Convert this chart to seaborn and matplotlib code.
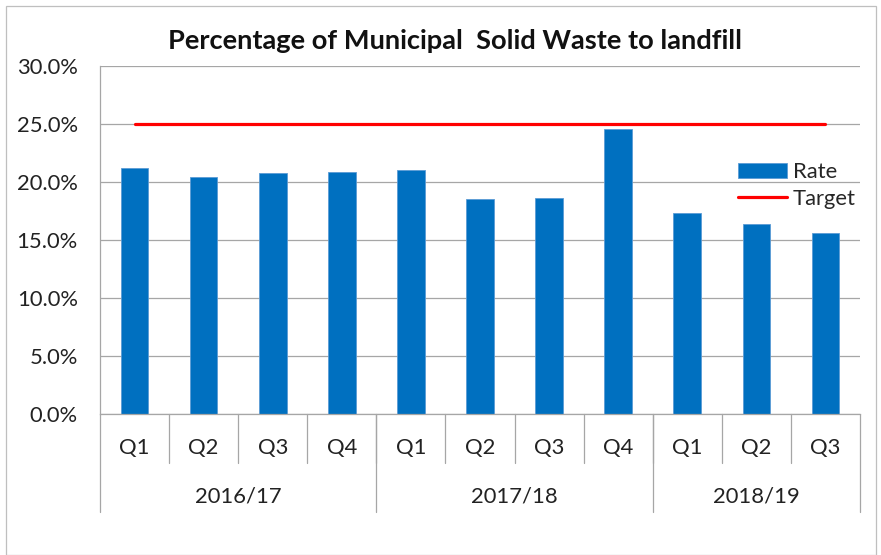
import numpy as np
import pandas as pd
import matplotlib.pyplot as plt
import matplotlib.transforms as mtransforms
from matplotlib.patches import Patch, Rectangle
from matplotlib.lines import Line2D
import seaborn as sns

# =========================================================
# DATA
# =========================================================
years = ["2016/17", "2017/18", "2018/19"]
quarters_per_year = [4, 4, 3]
quarters = ["Q1", "Q2", "Q3", "Q4", "Q1", "Q2", "Q3", "Q4", "Q1", "Q2", "Q3"]
rate = [21.2, 20.4, 20.8, 20.9, 21.0, 18.5, 18.6, 24.6, 17.3, 16.4, 15.6]
target = [25.0] * 11

period_year = [y for y, n in zip(years, quarters_per_year) for _ in range(n)]
df = pd.DataFrame({
    "period": [f"{y} {q}" for y, q in zip(period_year, quarters)],
    "quarter": quarters,
    "rate": rate,
    "target": target,
})

# =========================================================
# PLOT
# =========================================================
sns.set_style("white")
plt.rcParams["font.family"] = ["Lato", "DejaVu Sans"]

grey = "#A6A6A6"
txt = "#222222"
fs = 15.8
fig = plt.figure(figsize=(8.81, 5.55), dpi=100)
ax = fig.add_axes([100 / 881, 1 - 414 / 555, 760 / 881, 348 / 555])

sns.barplot(data=df, x="period", y="rate", color="#0070C0", width=0.4,
            saturation=1, edgecolor="#5B9BD5", linewidth=0.6, ax=ax)
x_pos = np.arange(len(df))
ax.plot(x_pos, df["target"], color="#FF0000", linewidth=2.3, zorder=3)

ax.set_xlim(-0.5, len(df) - 0.5)
ax.set_ylim(0, 30)
ax.set_yticks(np.arange(0, 30.1, 5))
ax.set_yticklabels([f"{v:.1f}%" for v in np.arange(0, 30.1, 5)], fontsize=fs, color=txt)
ax.yaxis.grid(True, color=grey, linewidth=0.9)
ax.set_axisbelow(True)
ax.tick_params(axis="y", length=5, color=grey, width=0.9, pad=11)
ax.tick_params(axis="x", length=4, direction="in", color=grey, width=0.8, labelbottom=False)
ax.set_xlabel("")
ax.set_ylabel("")
for s in ["top", "right"]:
    ax.spines[s].set_visible(False)
for s in ["left", "bottom"]:
    ax.spines[s].set_color(grey)
    ax.spines[s].set_linewidth(0.9)

# multi-level category axis
trans = mtransforms.blended_transform_factory(ax.transData, ax.transAxes)
for i, q in enumerate(df["quarter"]):
    ax.text(i, -0.098, q, transform=trans, ha="center", va="center",
            fontsize=fs, color=txt)
for i in range(1, len(df)):
    ax.plot([i - 0.5, i - 0.5], [0, -0.141], transform=trans, color=grey,
            linewidth=0.9, clip_on=False)
bounds = np.concatenate([[0], np.cumsum(quarters_per_year)])
for b in bounds:
    ax.plot([b - 0.5, b - 0.5], [0, -0.282], transform=trans, color=grey,
            linewidth=0.9, clip_on=False)
for y, a, b in zip(years, bounds[:-1], bounds[1:]):
    ax.text((a + b - 1) / 2, -0.236, y, transform=trans, ha="center", va="center",
            fontsize=fs, color=txt)

# legend
handles = [Patch(facecolor="#0070C0", edgecolor="#5B9BD5", linewidth=0.6, label="Rate"),
           Line2D([0], [0], color="#FF0000", linewidth=2.3, label="Target")]
ax.legend(handles=handles, loc="center left", bbox_to_anchor=(0.84, 0.657),
          frameon=False, fontsize=fs, handlelength=2.2, handleheight=0.65,
          handletextpad=0.27, labelspacing=0.3, borderpad=0, borderaxespad=0)

fig.text(455 / 881, 1 - 41 / 555, "Percentage of Municipal  Solid Waste to landfill",
         ha="center", va="center", fontsize=19.6, fontweight="bold", color="#111111")

# chart border
fig.patches.append(Rectangle((6 / 881, 0), 870 / 881, 1 - 6 / 555, transform=fig.transFigure,
                             fill=False, edgecolor="#BFBFBF", linewidth=0.9))

fig.savefig("out.png", dpi=100, facecolor="white")
